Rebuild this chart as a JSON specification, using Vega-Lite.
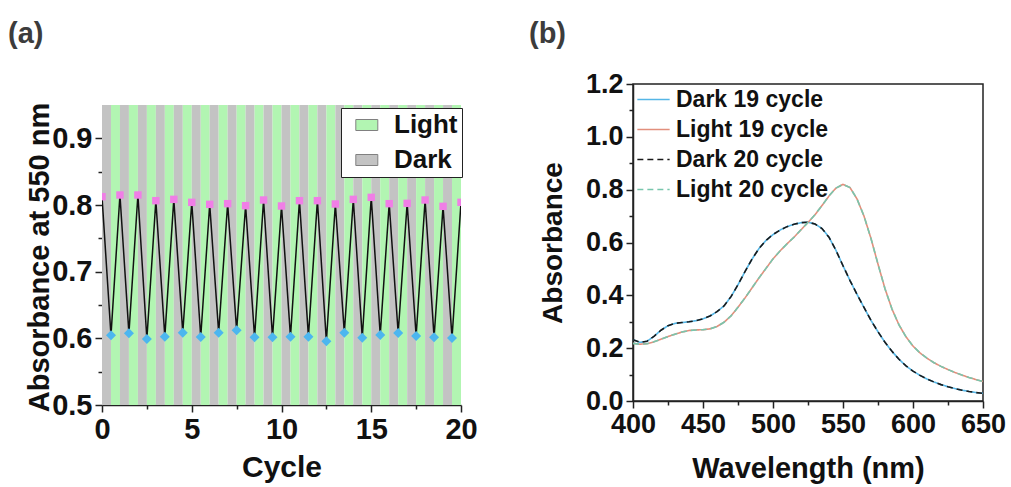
{
  "$schema": "https://vega.github.io/schema/vega-lite/v6.json",
  "background": "white",
  "padding": {"left": 8, "top": 19, "right": 5, "bottom": 5},
  "spacing": 50,
  "resolve": {
    "scale": {"fill": "independent", "color": "independent", "strokeDash": "independent"},
    "legend": {"fill": "independent", "color": "independent", "strokeDash": "independent"}
  },
  "config": {
    "font": "Liberation Sans",
    "view": {"stroke": "#222222", "strokeWidth": 1.5},
    "axis": {
      "grid": false,
      "labelFlush": false,
      "labelFont": "Liberation Sans",
      "labelFontWeight": "bold",
      "labelFontSize": 28,
      "labelColor": "#111111",
      "labelPadding": 3,
      "titleFont": "Liberation Sans",
      "titleFontWeight": "bold",
      "titleFontSize": 29,
      "titleColor": "#111111",
      "domainColor": "#222222",
      "domainWidth": 1.5,
      "tickColor": "#222222",
      "tickWidth": 1.5
    },
    "title": {"font": "Liberation Sans", "fontSize": 29, "fontWeight": "bold", "color": "#3c3c3c", "anchor": "start", "frame": "group"}
  },
  "datasets": {
    "phases": [
      {"start": 0, "end": 0.5, "phase": "Dark"}, {"start": 0.5, "end": 1, "phase": "Light"},
      {"start": 1, "end": 1.5, "phase": "Dark"}, {"start": 1.5, "end": 2, "phase": "Light"},
      {"start": 2, "end": 2.5, "phase": "Dark"}, {"start": 2.5, "end": 3, "phase": "Light"},
      {"start": 3, "end": 3.5, "phase": "Dark"}, {"start": 3.5, "end": 4, "phase": "Light"},
      {"start": 4, "end": 4.5, "phase": "Dark"}, {"start": 4.5, "end": 5, "phase": "Light"},
      {"start": 5, "end": 5.5, "phase": "Dark"}, {"start": 5.5, "end": 6, "phase": "Light"},
      {"start": 6, "end": 6.5, "phase": "Dark"}, {"start": 6.5, "end": 7, "phase": "Light"},
      {"start": 7, "end": 7.5, "phase": "Dark"}, {"start": 7.5, "end": 8, "phase": "Light"},
      {"start": 8, "end": 8.5, "phase": "Dark"}, {"start": 8.5, "end": 9, "phase": "Light"},
      {"start": 9, "end": 9.5, "phase": "Dark"}, {"start": 9.5, "end": 10, "phase": "Light"},
      {"start": 10, "end": 10.5, "phase": "Dark"}, {"start": 10.5, "end": 11, "phase": "Light"},
      {"start": 11, "end": 11.5, "phase": "Dark"}, {"start": 11.5, "end": 12, "phase": "Light"},
      {"start": 12, "end": 12.5, "phase": "Dark"}, {"start": 12.5, "end": 13, "phase": "Light"},
      {"start": 13, "end": 13.5, "phase": "Dark"}, {"start": 13.5, "end": 14, "phase": "Light"},
      {"start": 14, "end": 14.5, "phase": "Dark"}, {"start": 14.5, "end": 15, "phase": "Light"},
      {"start": 15, "end": 15.5, "phase": "Dark"}, {"start": 15.5, "end": 16, "phase": "Light"},
      {"start": 16, "end": 16.5, "phase": "Dark"}, {"start": 16.5, "end": 17, "phase": "Light"},
      {"start": 17, "end": 17.5, "phase": "Dark"}, {"start": 17.5, "end": 18, "phase": "Light"},
      {"start": 18, "end": 18.5, "phase": "Dark"}, {"start": 18.5, "end": 19, "phase": "Light"},
      {"start": 19, "end": 19.5, "phase": "Dark"}, {"start": 19.5, "end": 20, "phase": "Light"}
    ],
    "cycles": [
      {"cycle": 0, "absorbance": 0.8125, "state": "Light"},
      {"cycle": 0.5, "absorbance": 0.6045, "state": "Dark"},
      {"cycle": 1, "absorbance": 0.815, "state": "Light"},
      {"cycle": 1.5, "absorbance": 0.6075, "state": "Dark"},
      {"cycle": 2, "absorbance": 0.815, "state": "Light"},
      {"cycle": 2.5, "absorbance": 0.599, "state": "Dark"},
      {"cycle": 3, "absorbance": 0.8065, "state": "Light"},
      {"cycle": 3.5, "absorbance": 0.6025, "state": "Dark"},
      {"cycle": 4, "absorbance": 0.8085, "state": "Light"},
      {"cycle": 4.5, "absorbance": 0.6085, "state": "Dark"},
      {"cycle": 5, "absorbance": 0.804, "state": "Light"},
      {"cycle": 5.5, "absorbance": 0.602, "state": "Dark"},
      {"cycle": 6, "absorbance": 0.801, "state": "Light"},
      {"cycle": 6.5, "absorbance": 0.6085, "state": "Dark"},
      {"cycle": 7, "absorbance": 0.802, "state": "Light"},
      {"cycle": 7.5, "absorbance": 0.612, "state": "Dark"},
      {"cycle": 8, "absorbance": 0.799, "state": "Light"},
      {"cycle": 8.5, "absorbance": 0.6015, "state": "Dark"},
      {"cycle": 9, "absorbance": 0.8075, "state": "Light"},
      {"cycle": 9.5, "absorbance": 0.6015, "state": "Dark"},
      {"cycle": 10, "absorbance": 0.7985, "state": "Light"},
      {"cycle": 10.5, "absorbance": 0.6025, "state": "Dark"},
      {"cycle": 11, "absorbance": 0.8065, "state": "Light"},
      {"cycle": 11.5, "absorbance": 0.6025, "state": "Dark"},
      {"cycle": 12, "absorbance": 0.8065, "state": "Light"},
      {"cycle": 12.5, "absorbance": 0.5955, "state": "Dark"},
      {"cycle": 13, "absorbance": 0.8015, "state": "Light"},
      {"cycle": 13.5, "absorbance": 0.6085, "state": "Dark"},
      {"cycle": 14, "absorbance": 0.8085, "state": "Light"},
      {"cycle": 14.5, "absorbance": 0.601, "state": "Dark"},
      {"cycle": 15, "absorbance": 0.8115, "state": "Light"},
      {"cycle": 15.5, "absorbance": 0.605, "state": "Dark"},
      {"cycle": 16, "absorbance": 0.802, "state": "Light"},
      {"cycle": 16.5, "absorbance": 0.608, "state": "Dark"},
      {"cycle": 17, "absorbance": 0.8025, "state": "Light"},
      {"cycle": 17.5, "absorbance": 0.6035, "state": "Dark"},
      {"cycle": 18, "absorbance": 0.8075, "state": "Light"},
      {"cycle": 18.5, "absorbance": 0.6015, "state": "Dark"},
      {"cycle": 19, "absorbance": 0.798, "state": "Light"},
      {"cycle": 19.5, "absorbance": 0.6005, "state": "Dark"},
      {"cycle": 20, "absorbance": 0.804, "state": "Light"}
    ],
    "spectra": [
      {"w": 400, "a": 0.232, "s": "Dark 19 cycle"}, {"w": 405, "a": 0.222, "s": "Dark 19 cycle"}, {"w": 410, "a": 0.226, "s": "Dark 19 cycle"}, {"w": 415, "a": 0.245, "s": "Dark 19 cycle"}, {"w": 420, "a": 0.268, "s": "Dark 19 cycle"}, {"w": 425, "a": 0.285, "s": "Dark 19 cycle"}, {"w": 430, "a": 0.294, "s": "Dark 19 cycle"}, {"w": 435, "a": 0.297, "s": "Dark 19 cycle"}, {"w": 440, "a": 0.300, "s": "Dark 19 cycle"}, {"w": 445, "a": 0.304, "s": "Dark 19 cycle"}, {"w": 450, "a": 0.311, "s": "Dark 19 cycle"}, {"w": 455, "a": 0.322, "s": "Dark 19 cycle"}, {"w": 460, "a": 0.338, "s": "Dark 19 cycle"}, {"w": 465, "a": 0.360, "s": "Dark 19 cycle"}, {"w": 470, "a": 0.395, "s": "Dark 19 cycle"}, {"w": 475, "a": 0.440, "s": "Dark 19 cycle"}, {"w": 480, "a": 0.490, "s": "Dark 19 cycle"}, {"w": 485, "a": 0.537, "s": "Dark 19 cycle"}, {"w": 490, "a": 0.577, "s": "Dark 19 cycle"}, {"w": 495, "a": 0.608, "s": "Dark 19 cycle"}, {"w": 500, "a": 0.630, "s": "Dark 19 cycle"}, {"w": 505, "a": 0.647, "s": "Dark 19 cycle"}, {"w": 510, "a": 0.660, "s": "Dark 19 cycle"}, {"w": 515, "a": 0.669, "s": "Dark 19 cycle"}, {"w": 520, "a": 0.675, "s": "Dark 19 cycle"}, {"w": 525, "a": 0.677, "s": "Dark 19 cycle"}, {"w": 530, "a": 0.670, "s": "Dark 19 cycle"}, {"w": 535, "a": 0.653, "s": "Dark 19 cycle"}, {"w": 540, "a": 0.620, "s": "Dark 19 cycle"}, {"w": 545, "a": 0.570, "s": "Dark 19 cycle"}, {"w": 550, "a": 0.512, "s": "Dark 19 cycle"}, {"w": 555, "a": 0.456, "s": "Dark 19 cycle"}, {"w": 560, "a": 0.404, "s": "Dark 19 cycle"}, {"w": 565, "a": 0.354, "s": "Dark 19 cycle"}, {"w": 570, "a": 0.305, "s": "Dark 19 cycle"}, {"w": 575, "a": 0.262, "s": "Dark 19 cycle"}, {"w": 580, "a": 0.222, "s": "Dark 19 cycle"}, {"w": 585, "a": 0.188, "s": "Dark 19 cycle"}, {"w": 590, "a": 0.158, "s": "Dark 19 cycle"}, {"w": 595, "a": 0.133, "s": "Dark 19 cycle"}, {"w": 600, "a": 0.113, "s": "Dark 19 cycle"}, {"w": 605, "a": 0.097, "s": "Dark 19 cycle"}, {"w": 610, "a": 0.083, "s": "Dark 19 cycle"}, {"w": 615, "a": 0.072, "s": "Dark 19 cycle"}, {"w": 620, "a": 0.062, "s": "Dark 19 cycle"}, {"w": 625, "a": 0.054, "s": "Dark 19 cycle"}, {"w": 630, "a": 0.047, "s": "Dark 19 cycle"}, {"w": 635, "a": 0.041, "s": "Dark 19 cycle"}, {"w": 640, "a": 0.036, "s": "Dark 19 cycle"}, {"w": 645, "a": 0.032, "s": "Dark 19 cycle"}, {"w": 650, "a": 0.029, "s": "Dark 19 cycle"},

      {"w": 400, "a": 0.218, "s": "Light 19 cycle"}, {"w": 405, "a": 0.215, "s": "Light 19 cycle"}, {"w": 410, "a": 0.217, "s": "Light 19 cycle"}, {"w": 415, "a": 0.224, "s": "Light 19 cycle"}, {"w": 420, "a": 0.234, "s": "Light 19 cycle"}, {"w": 425, "a": 0.244, "s": "Light 19 cycle"}, {"w": 430, "a": 0.253, "s": "Light 19 cycle"}, {"w": 435, "a": 0.261, "s": "Light 19 cycle"}, {"w": 440, "a": 0.267, "s": "Light 19 cycle"}, {"w": 445, "a": 0.269, "s": "Light 19 cycle"}, {"w": 450, "a": 0.270, "s": "Light 19 cycle"}, {"w": 455, "a": 0.273, "s": "Light 19 cycle"}, {"w": 460, "a": 0.282, "s": "Light 19 cycle"}, {"w": 465, "a": 0.298, "s": "Light 19 cycle"}, {"w": 470, "a": 0.322, "s": "Light 19 cycle"}, {"w": 475, "a": 0.355, "s": "Light 19 cycle"}, {"w": 480, "a": 0.390, "s": "Light 19 cycle"}, {"w": 485, "a": 0.428, "s": "Light 19 cycle"}, {"w": 490, "a": 0.466, "s": "Light 19 cycle"}, {"w": 495, "a": 0.502, "s": "Light 19 cycle"}, {"w": 500, "a": 0.538, "s": "Light 19 cycle"}, {"w": 505, "a": 0.568, "s": "Light 19 cycle"}, {"w": 510, "a": 0.595, "s": "Light 19 cycle"}, {"w": 515, "a": 0.620, "s": "Light 19 cycle"}, {"w": 520, "a": 0.648, "s": "Light 19 cycle"}, {"w": 525, "a": 0.676, "s": "Light 19 cycle"}, {"w": 530, "a": 0.705, "s": "Light 19 cycle"}, {"w": 535, "a": 0.740, "s": "Light 19 cycle"}, {"w": 540, "a": 0.776, "s": "Light 19 cycle"}, {"w": 545, "a": 0.806, "s": "Light 19 cycle"}, {"w": 550, "a": 0.820, "s": "Light 19 cycle"}, {"w": 555, "a": 0.808, "s": "Light 19 cycle"}, {"w": 560, "a": 0.765, "s": "Light 19 cycle"}, {"w": 565, "a": 0.700, "s": "Light 19 cycle"}, {"w": 570, "a": 0.615, "s": "Light 19 cycle"}, {"w": 575, "a": 0.518, "s": "Light 19 cycle"}, {"w": 580, "a": 0.425, "s": "Light 19 cycle"}, {"w": 585, "a": 0.348, "s": "Light 19 cycle"}, {"w": 590, "a": 0.288, "s": "Light 19 cycle"}, {"w": 595, "a": 0.243, "s": "Light 19 cycle"}, {"w": 600, "a": 0.208, "s": "Light 19 cycle"}, {"w": 605, "a": 0.182, "s": "Light 19 cycle"}, {"w": 610, "a": 0.162, "s": "Light 19 cycle"}, {"w": 615, "a": 0.145, "s": "Light 19 cycle"}, {"w": 620, "a": 0.131, "s": "Light 19 cycle"}, {"w": 625, "a": 0.119, "s": "Light 19 cycle"}, {"w": 630, "a": 0.108, "s": "Light 19 cycle"}, {"w": 635, "a": 0.098, "s": "Light 19 cycle"}, {"w": 640, "a": 0.089, "s": "Light 19 cycle"}, {"w": 645, "a": 0.081, "s": "Light 19 cycle"}, {"w": 650, "a": 0.074, "s": "Light 19 cycle"},

      {"w": 400, "a": 0.232, "s": "Dark 20 cycle"}, {"w": 405, "a": 0.222, "s": "Dark 20 cycle"}, {"w": 410, "a": 0.226, "s": "Dark 20 cycle"}, {"w": 415, "a": 0.245, "s": "Dark 20 cycle"}, {"w": 420, "a": 0.268, "s": "Dark 20 cycle"}, {"w": 425, "a": 0.285, "s": "Dark 20 cycle"}, {"w": 430, "a": 0.294, "s": "Dark 20 cycle"}, {"w": 435, "a": 0.297, "s": "Dark 20 cycle"}, {"w": 440, "a": 0.300, "s": "Dark 20 cycle"}, {"w": 445, "a": 0.304, "s": "Dark 20 cycle"}, {"w": 450, "a": 0.311, "s": "Dark 20 cycle"}, {"w": 455, "a": 0.322, "s": "Dark 20 cycle"}, {"w": 460, "a": 0.338, "s": "Dark 20 cycle"}, {"w": 465, "a": 0.360, "s": "Dark 20 cycle"}, {"w": 470, "a": 0.395, "s": "Dark 20 cycle"}, {"w": 475, "a": 0.440, "s": "Dark 20 cycle"}, {"w": 480, "a": 0.490, "s": "Dark 20 cycle"}, {"w": 485, "a": 0.537, "s": "Dark 20 cycle"}, {"w": 490, "a": 0.577, "s": "Dark 20 cycle"}, {"w": 495, "a": 0.608, "s": "Dark 20 cycle"}, {"w": 500, "a": 0.630, "s": "Dark 20 cycle"}, {"w": 505, "a": 0.647, "s": "Dark 20 cycle"}, {"w": 510, "a": 0.660, "s": "Dark 20 cycle"}, {"w": 515, "a": 0.669, "s": "Dark 20 cycle"}, {"w": 520, "a": 0.675, "s": "Dark 20 cycle"}, {"w": 525, "a": 0.677, "s": "Dark 20 cycle"}, {"w": 530, "a": 0.670, "s": "Dark 20 cycle"}, {"w": 535, "a": 0.653, "s": "Dark 20 cycle"}, {"w": 540, "a": 0.620, "s": "Dark 20 cycle"}, {"w": 545, "a": 0.570, "s": "Dark 20 cycle"}, {"w": 550, "a": 0.512, "s": "Dark 20 cycle"}, {"w": 555, "a": 0.456, "s": "Dark 20 cycle"}, {"w": 560, "a": 0.404, "s": "Dark 20 cycle"}, {"w": 565, "a": 0.354, "s": "Dark 20 cycle"}, {"w": 570, "a": 0.305, "s": "Dark 20 cycle"}, {"w": 575, "a": 0.262, "s": "Dark 20 cycle"}, {"w": 580, "a": 0.222, "s": "Dark 20 cycle"}, {"w": 585, "a": 0.188, "s": "Dark 20 cycle"}, {"w": 590, "a": 0.158, "s": "Dark 20 cycle"}, {"w": 595, "a": 0.133, "s": "Dark 20 cycle"}, {"w": 600, "a": 0.113, "s": "Dark 20 cycle"}, {"w": 605, "a": 0.097, "s": "Dark 20 cycle"}, {"w": 610, "a": 0.083, "s": "Dark 20 cycle"}, {"w": 615, "a": 0.072, "s": "Dark 20 cycle"}, {"w": 620, "a": 0.062, "s": "Dark 20 cycle"}, {"w": 625, "a": 0.054, "s": "Dark 20 cycle"}, {"w": 630, "a": 0.047, "s": "Dark 20 cycle"}, {"w": 635, "a": 0.041, "s": "Dark 20 cycle"}, {"w": 640, "a": 0.036, "s": "Dark 20 cycle"}, {"w": 645, "a": 0.032, "s": "Dark 20 cycle"}, {"w": 650, "a": 0.029, "s": "Dark 20 cycle"},

      {"w": 400, "a": 0.218, "s": "Light 20 cycle"}, {"w": 405, "a": 0.215, "s": "Light 20 cycle"}, {"w": 410, "a": 0.217, "s": "Light 20 cycle"}, {"w": 415, "a": 0.224, "s": "Light 20 cycle"}, {"w": 420, "a": 0.234, "s": "Light 20 cycle"}, {"w": 425, "a": 0.244, "s": "Light 20 cycle"}, {"w": 430, "a": 0.253, "s": "Light 20 cycle"}, {"w": 435, "a": 0.261, "s": "Light 20 cycle"}, {"w": 440, "a": 0.267, "s": "Light 20 cycle"}, {"w": 445, "a": 0.269, "s": "Light 20 cycle"}, {"w": 450, "a": 0.270, "s": "Light 20 cycle"}, {"w": 455, "a": 0.273, "s": "Light 20 cycle"}, {"w": 460, "a": 0.282, "s": "Light 20 cycle"}, {"w": 465, "a": 0.298, "s": "Light 20 cycle"}, {"w": 470, "a": 0.322, "s": "Light 20 cycle"}, {"w": 475, "a": 0.355, "s": "Light 20 cycle"}, {"w": 480, "a": 0.390, "s": "Light 20 cycle"}, {"w": 485, "a": 0.428, "s": "Light 20 cycle"}, {"w": 490, "a": 0.466, "s": "Light 20 cycle"}, {"w": 495, "a": 0.502, "s": "Light 20 cycle"}, {"w": 500, "a": 0.538, "s": "Light 20 cycle"}, {"w": 505, "a": 0.568, "s": "Light 20 cycle"}, {"w": 510, "a": 0.595, "s": "Light 20 cycle"}, {"w": 515, "a": 0.620, "s": "Light 20 cycle"}, {"w": 520, "a": 0.648, "s": "Light 20 cycle"}, {"w": 525, "a": 0.676, "s": "Light 20 cycle"}, {"w": 530, "a": 0.705, "s": "Light 20 cycle"}, {"w": 535, "a": 0.740, "s": "Light 20 cycle"}, {"w": 540, "a": 0.776, "s": "Light 20 cycle"}, {"w": 545, "a": 0.806, "s": "Light 20 cycle"}, {"w": 550, "a": 0.820, "s": "Light 20 cycle"}, {"w": 555, "a": 0.808, "s": "Light 20 cycle"}, {"w": 560, "a": 0.765, "s": "Light 20 cycle"}, {"w": 565, "a": 0.700, "s": "Light 20 cycle"}, {"w": 570, "a": 0.615, "s": "Light 20 cycle"}, {"w": 575, "a": 0.518, "s": "Light 20 cycle"}, {"w": 580, "a": 0.425, "s": "Light 20 cycle"}, {"w": 585, "a": 0.348, "s": "Light 20 cycle"}, {"w": 590, "a": 0.288, "s": "Light 20 cycle"}, {"w": 595, "a": 0.243, "s": "Light 20 cycle"}, {"w": 600, "a": 0.208, "s": "Light 20 cycle"}, {"w": 605, "a": 0.182, "s": "Light 20 cycle"}, {"w": 610, "a": 0.162, "s": "Light 20 cycle"}, {"w": 615, "a": 0.145, "s": "Light 20 cycle"}, {"w": 620, "a": 0.131, "s": "Light 20 cycle"}, {"w": 625, "a": 0.119, "s": "Light 20 cycle"}, {"w": 630, "a": 0.108, "s": "Light 20 cycle"}, {"w": 635, "a": 0.098, "s": "Light 20 cycle"}, {"w": 640, "a": 0.089, "s": "Light 20 cycle"}, {"w": 645, "a": 0.081, "s": "Light 20 cycle"}, {"w": 650, "a": 0.074, "s": "Light 20 cycle"}
    ]
  },
  "hconcat": [
    {
      "width": 359,
      "height": 321,
      "view": {"stroke": null},
      "title": {"text": "(a)", "dx": -94, "offset": 35},
      "layer": [
        {
          "data": {"name": "phases"},
          "mark": {"type": "rect"},
          "encoding": {
            "x": {
              "field": "start", "type": "quantitative",
              "scale": {"domain": [0, 20], "nice": false},
              "axis": {
                "title": "Cycle",
                "titleFontSize": 30,
                "labelFontSize": 29,
                "values": [0, 2.5, 5, 7.5, 10, 12.5, 15, 17.5, 20],
                "labelExpr": "datum.value % 5 === 0 ? datum.label : ''",
                "tickSize": {"condition": {"test": "datum.value % 5 === 0", "value": 7}, "value": 4},
                "titlePadding": 8
              }
            },
            "x2": {"field": "end"},
            "y": {"datum": 0.95, "type": "quantitative"},
            "y2": {"datum": 0.5},
            "fill": {
              "field": "phase", "type": "nominal",
              "scale": {"domain": ["Light", "Dark"], "range": ["#b2f5b2", "#c3c3c3"]},
              "legend": {
                "title": null,
                "orient": "none",
                "legendX": 239,
                "legendY": 24,
                "padding": 4,
                "fillColor": "white",
                "strokeColor": "#222222",
                "labelFont": "Liberation Sans",
                "labelFontSize": 26,
                "labelFontWeight": "bold",
                "labelColor": "#111111",
                "labelOffset": 23,
                "rowPadding": 9,
                "symbolType": "M-0.2,-0.5H1.8V0.5H-0.2Z",
                "symbolSize": 484,
                "symbolStrokeColor": "#808080",
                "symbolStrokeWidth": 1
              }
            }
          }
        },
        {
          "data": {"name": "cycles"},
          "mark": {"type": "line", "color": "#111111", "strokeWidth": 1.5, "clip": true},
          "encoding": {
            "x": {"field": "cycle", "type": "quantitative"},
            "y": {
              "field": "absorbance", "type": "quantitative",
              "scale": {"domain": [0.5, 0.9815], "nice": false, "zero": false},
              "axis": {
                "title": "Absorbance at 550 nm",
                "titleFontSize": 29,
                "labelFontSize": 29,
                "domain": false,
                "values": [0.5, 0.55, 0.6, 0.65, 0.7, 0.75, 0.8, 0.85, 0.9],
                "labelExpr": "abs(datum.value * 10 - round(datum.value * 10)) < 0.001 ? format(datum.value, '.1f') : ''",
                "tickSize": {"condition": {"test": "abs(datum.value * 10 - round(datum.value * 10)) < 0.001", "value": 7}, "value": 4},
                "titlePadding": -3,
                "titleY": 173
              }
            }
          }
        },
        {
          "data": {"name": "cycles"},
          "transform": [{"filter": "datum.state === 'Light'"}],
          "mark": {"type": "point", "shape": "square", "filled": true, "color": "#f07ee6", "opacity": 1, "size": 55, "clip": true},
          "encoding": {
            "x": {"field": "cycle", "type": "quantitative"},
            "y": {"field": "absorbance", "type": "quantitative"}
          }
        },
        {
          "data": {"name": "cycles"},
          "transform": [{"filter": "datum.state === 'Dark'"}],
          "mark": {"type": "point", "shape": "diamond", "filled": true, "color": "#4cb6ef", "opacity": 1, "size": 100, "clip": true},
          "encoding": {
            "x": {"field": "cycle", "type": "quantitative"},
            "y": {"field": "absorbance", "type": "quantitative"}
          }
        },
        {
          "mark": {"type": "rule", "color": "#222222", "strokeWidth": 1.5},
          "encoding": {
            "x": {"datum": 0, "type": "quantitative"},
            "x2": {"datum": 20},
            "y": {"datum": 0.95, "type": "quantitative"}
          }
        },
        {
          "mark": {"type": "rule", "color": "#222222", "strokeWidth": 1.5},
          "encoding": {
            "x": {"datum": 0, "type": "quantitative"},
            "y": {"datum": 0.5, "type": "quantitative"},
            "y2": {"datum": 0.95}
          }
        },
        {
          "mark": {"type": "rule", "color": "#222222", "strokeWidth": 1.5},
          "encoding": {
            "x": {"datum": 20, "type": "quantitative"},
            "y": {"datum": 0.5, "type": "quantitative"},
            "y2": {"datum": 0.95}
          }
        }
      ]
    },
    {
      "width": 350,
      "height": 317,
      "title": {"text": "(b)", "dx": -104, "offset": 21},
      "data": {"name": "spectra"},
      "mark": {"type": "line", "strokeWidth": 1.6},
      "encoding": {
        "x": {
          "field": "w", "type": "quantitative",
          "scale": {"domain": [400, 650], "nice": false},
          "axis": {
            "title": "Wavelength (nm)",
            "titleFontSize": 29,
            "labelFontSize": 27,
            "values": [400, 425, 450, 475, 500, 525, 550, 575, 600, 625, 650],
            "labelExpr": "datum.value % 50 === 0 ? datum.label : ''",
            "tickSize": {"condition": {"test": "datum.value % 50 === 0", "value": 7}, "value": 4},
            "titlePadding": 17
          }
        },
        "y": {
          "field": "a", "type": "quantitative",
          "scale": {"domain": [0, 1.2], "nice": false},
          "axis": {
            "title": "Absorbance",
            "titleFontSize": 28,
            "labelFontSize": 27,
            "values": [0, 0.1, 0.2, 0.3, 0.4, 0.5, 0.6, 0.7, 0.8, 0.9, 1.0, 1.1, 1.2],
            "labelExpr": "abs(datum.value * 5 - round(datum.value * 5)) < 0.001 ? format(datum.value, '.1f') : ''",
            "tickSize": {"condition": {"test": "abs(datum.value * 5 - round(datum.value * 5)) < 0.001", "value": 7}, "value": 4},
            "titlePadding": 18
          }
        },
        "color": {
          "field": "s", "type": "nominal",
          "scale": {
            "domain": ["Dark 19 cycle", "Light 19 cycle", "Dark 20 cycle", "Light 20 cycle"],
            "range": ["#55b6e6", "#e28f7c", "#1a1a1a", "#78c6ad"]
          },
          "legend": {
            "title": null,
            "orient": "none",
            "legendX": 9,
            "legendY": 4,
            "padding": 0,
            "labelFont": "Liberation Sans",
            "labelFontSize": 23,
            "labelFontWeight": "bold",
            "labelColor": "#111111",
            "labelOffset": 11,
            "rowPadding": 6,
            "symbolType": "M-1.9,0H1.9",
            "symbolSize": 289,
            "symbolStrokeWidth": 1.6
          }
        },
        "strokeDash": {
          "field": "s", "type": "nominal",
          "scale": {
            "domain": ["Dark 19 cycle", "Light 19 cycle", "Dark 20 cycle", "Light 20 cycle"],
            "range": [[1, 0], [1, 0], [6, 4], [6, 4]]
          },
          "legend": {
            "title": null,
            "orient": "none",
            "legendX": 9,
            "legendY": 4,
            "padding": 0,
            "labelFont": "Liberation Sans",
            "labelFontSize": 23,
            "labelFontWeight": "bold",
            "labelColor": "#111111",
            "labelOffset": 11,
            "rowPadding": 6,
            "symbolType": "M-1.9,0H1.9",
            "symbolSize": 289,
            "symbolStrokeWidth": 1.6
          }
        }
      }
    }
  ]
}
